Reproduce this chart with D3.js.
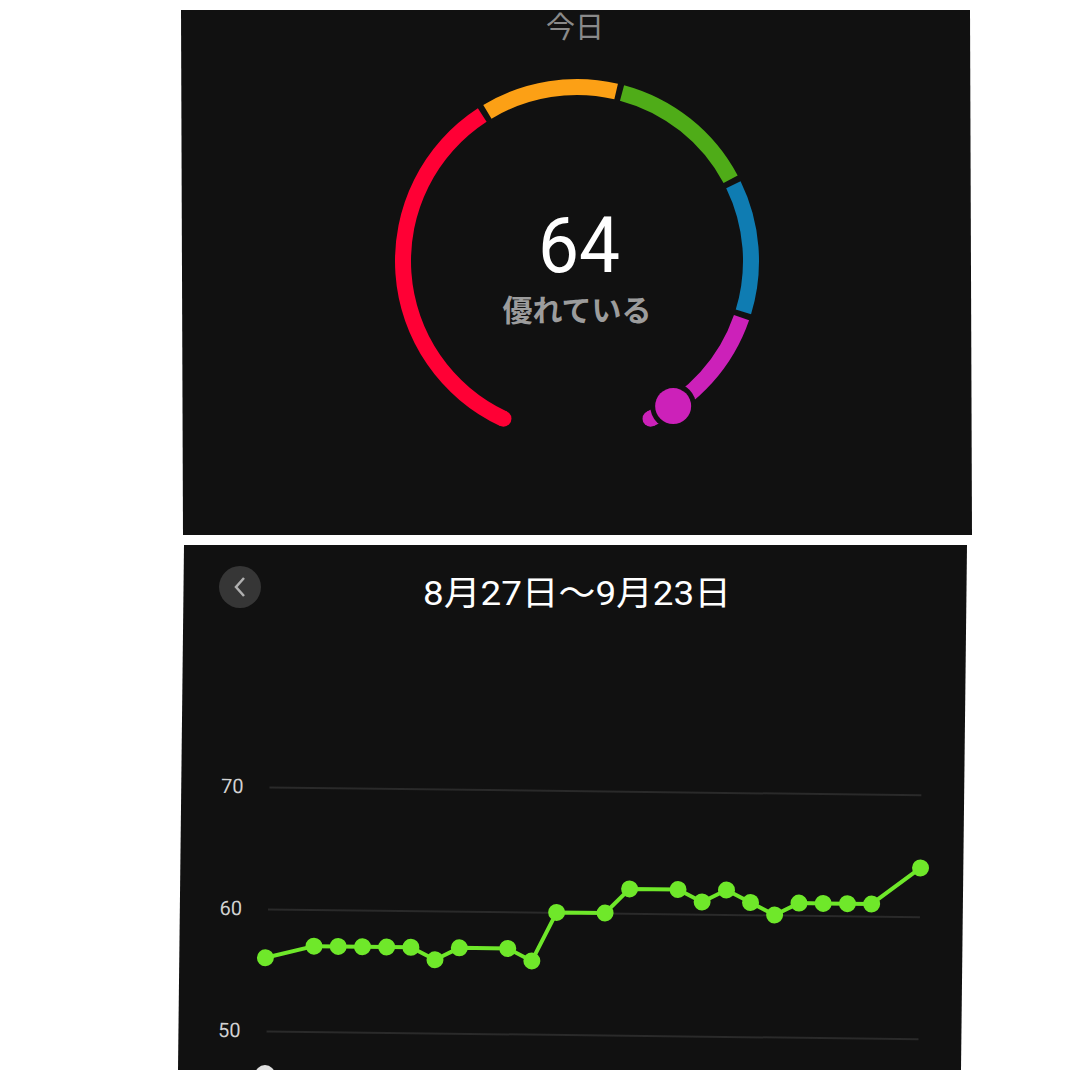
<!DOCTYPE html>
<html><head><meta charset="utf-8">
<script src="https://cdn.jsdelivr.net/npm/d3@7/dist/d3.min.js"></script>
<style>html,body{margin:0;padding:0;background:#fff;}svg{display:block;}</style>
</head><body>
<svg id="c" width="1080" height="1080"></svg>
<script>
// ---------- DATA ----------
const gaugeTitle = '今日';
const gaugeValue = 64;
const gaugeCategories = ['低い', '普通', '良い', '非常に良い', '優れている'];
const gaugeBreaks = [20, 41, 45, 49, 55, 66];
const gaugeColors = ['#ff0035', '#fca015', '#4fac18', '#0f7cb2', '#cc21b9'];

const chartTitle = '8月27日～9月23日';
const dates = ['2023-08-27','2023-08-29','2023-08-30','2023-08-31','2023-09-01','2023-09-02',
  '2023-09-03','2023-09-04','2023-09-06','2023-09-07','2023-09-08','2023-09-10','2023-09-11',
  '2023-09-13','2023-09-14','2023-09-15','2023-09-16','2023-09-17','2023-09-18','2023-09-19',
  '2023-09-20','2023-09-21','2023-09-23'];
const vo2 = [56,57,57,57,57,57,56,57,57,56,60,60,62,62,61,62,61,60,61,61,61,61,64];
const yTicks = [50, 60, 70];
const dateStart = '2023-08-27', dateEnd = '2023-09-23';

// ---------- DRAW ----------
const svg = d3.select('#c');
const deg = Math.PI / 180;

// panels
svg.append('polygon').attr('points', '181,10 970,10 972,535 183,535').attr('fill', '#111111');
svg.append('polygon').attr('points', '184,545 967,545 961,1070 178,1070').attr('fill', '#111111');

// ---- gauge ----
const cx = 577, cy = 261, rOut = 182, rIn = 166, rMid = (rOut + rIn) / 2;
const angle = d3.scaleLinear().domain(gaugeBreaks)
  .range([-155, -32, 14, 63, 108, 155].map(a => a * deg));
const g = svg.append('g').attr('transform', `translate(${cx},${cy})`);
const arc = d3.arc().innerRadius(rIn).outerRadius(rOut);
const gapA = 1.0 * deg;
const segs = gaugeCategories.map((c, i) => ({
  c, color: gaugeColors[i],
  a0: angle(gaugeBreaks[i]) + (i === 0 ? 0 : gapA),
  a1: angle(gaugeBreaks[i + 1]) - (i === gaugeCategories.length - 1 ? 0 : gapA)
}));
g.selectAll('path.seg').data(segs).join('path').attr('class', 'seg')
  .attr('d', d => arc({startAngle: d.a0, endAngle: d.a1}))
  .attr('fill', d => d.color);
// round end caps
const caps = [{a: segs[0].a0, color: segs[0].color}, {a: segs[segs.length - 1].a1, color: segs[segs.length - 1].color}];
g.selectAll('circle.cap').data(caps).join('circle').attr('class', 'cap')
  .attr('cx', d => rMid * Math.sin(d.a)).attr('cy', d => -rMid * Math.cos(d.a))
  .attr('r', (rOut - rIn) / 2).attr('fill', d => d.color);
// marker
const catIdx = Math.min(gaugeCategories.length - 1, d3.bisectRight(gaugeBreaks, gaugeValue) - 1);
const ma = angle(gaugeValue);
g.append('circle').attr('cx', rMid * Math.sin(ma)).attr('cy', -rMid * Math.cos(ma)).attr('r', 23).attr('fill', '#111111');
g.append('circle').attr('cx', rMid * Math.sin(ma)).attr('cy', -rMid * Math.cos(ma)).attr('r', 18).attr('fill', gaugeColors[catIdx]);

svg.append('text').attr('x', 575).attr('y', 38).attr('text-anchor', 'middle')
  .attr('font-family', '"Noto Sans CJK JP", sans-serif').attr('font-size', 29).attr('fill', '#8a8a8a')
  .text(gaugeTitle);
svg.append('text').attr('x', 579).attr('y', 272).attr('text-anchor', 'middle')
  .attr('font-family', 'Roboto, sans-serif').attr('font-size', 78).attr('fill', '#ffffff')
  .attr('textLength', 82).attr('lengthAdjust', 'spacingAndGlyphs')
  .text(gaugeValue);
svg.append('text').attr('x', 577).attr('y', 321).attr('text-anchor', 'middle')
  .attr('font-family', '"Noto Sans CJK JP", sans-serif').attr('font-weight', 700).attr('font-size', 30).attr('fill', '#9c9c9c')
  .text(gaugeCategories[catIdx]);

// ---- line chart ----
// back button
svg.append('circle').attr('cx', 240).attr('cy', 587).attr('r', 21).attr('fill', '#363636');
svg.append('path').attr('d', 'M244,578 L236,587 L244,596').attr('fill', 'none')
  .attr('stroke', '#b0b0b0').attr('stroke-width', 2.5);
svg.append('text').attr('x', 577).attr('y', 605).attr('text-anchor', 'middle')
  .attr('font-family', 'Roboto, "Noto Sans CJK JP", sans-serif').attr('font-size', 34).attr('fill', '#ffffff')
  .attr('textLength', 308).attr('lengthAdjust', 'spacingAndGlyphs')
  .text(chartTitle);

const parse = d3.timeParse('%Y-%m-%d');
const x = d3.scaleTime().domain([parse(dateStart), parse(dateEnd)]).range([266, 920]);
const y = d3.scaleLinear().domain([50, 70]).range([1031, 787]);
const ch = svg.append('g').attr('transform', 'rotate(0.68,268,909)');

const yAxis = d3.axisLeft(y).tickValues(yTicks).tickSize(-652).tickPadding(26);
const ax = ch.append('g').attr('transform', 'translate(268,0)').call(yAxis);
ax.select('.domain').remove();
ax.selectAll('.tick line').attr('stroke', '#2a2a2a').attr('stroke-width', 2);
ax.selectAll('.tick text').attr('fill', '#d2d2d2').attr('font-size', 20)
  .attr('font-family', 'Roboto, sans-serif').attr('dy', '0.3em');

const pts = dates.map((d, i) => ({d: parse(d), v: vo2[i]}));
ch.append('path').datum(pts)
  .attr('d', d3.line().x(p => x(p.d)).y(p => y(p.v)))
  .attr('fill', 'none').attr('stroke', '#6fe82a').attr('stroke-width', 4).attr('stroke-linejoin', 'round');
ch.selectAll('circle.pt').data(pts).join('circle').attr('class', 'pt')
  .attr('cx', p => x(p.d)).attr('cy', p => y(p.v)).attr('r', 8.5).attr('fill', '#6fe82a');

// cut-off legend marker at bottom edge
svg.append('clipPath').attr('id', 'clipB').append('rect').attr('x', 170).attr('y', 545).attr('width', 800).attr('height', 525);
svg.append('circle').attr('clip-path', 'url(#clipB)').attr('cx', 265).attr('cy', 1075).attr('r', 10).attr('fill', '#e0e0e0');
</script>
</body></html>
